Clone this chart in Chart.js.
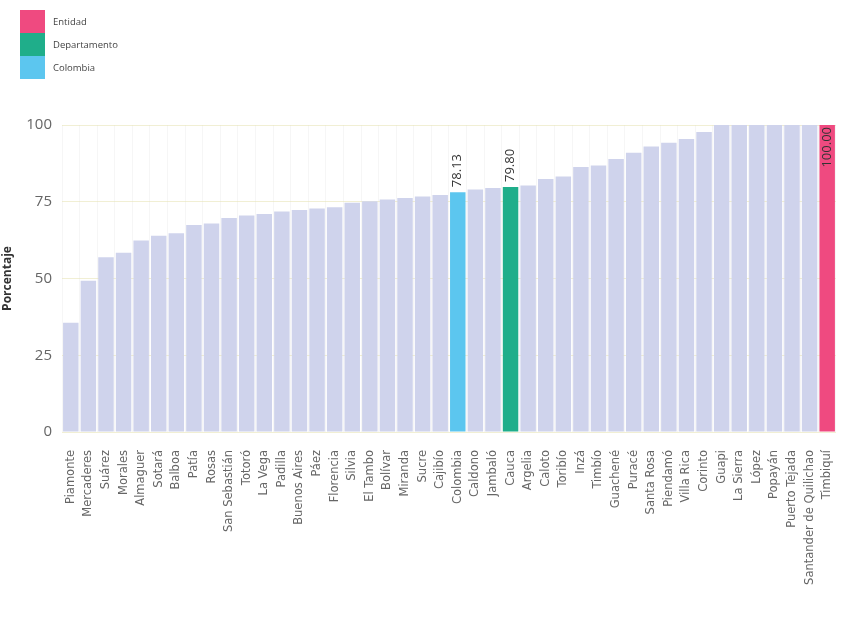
<!DOCTYPE html>
<html>
<head>
<meta charset="utf-8">
<script src="https://cdn.jsdelivr.net/npm/chart.js@4.4.1/dist/chart.umd.min.js"></script>
<style>
    html, body { margin: 0; padding: 0; background: #fff; }
    #wrap { position: relative; width: 859px; height: 630px; }
    #legenda { position: absolute; left: 20px; top: 10px; font-family: "Open Sans", sans-serif; font-size: 9.5px; color: #444; }
    .leg-item { display: flex; align-items: center; height: 23px; }
    .leg-cor { width: 25px; height: 23px; margin-right: 8px; }
</style>
</head>
<body>
<div id="wrap">
    <canvas id="grafico" width="859" height="630"></canvas>
    <div id="legenda"></div>
</div>
<script>
//  -- dados --
const municipios = ['Piamonte', 'Mercaderes', 'Suárez', 'Morales', 'Almaguer', 'Sotará', 'Balboa', 'Patía',
    'Rosas', 'San Sebastián', 'Totoró', 'La Vega', 'Padilla', 'Buenos Aires', 'Páez', 'Florencia', 'Silvia',
    'El Tambo', 'Bolívar', 'Miranda', 'Sucre', 'Cajibío', 'Colombia', 'Caldono', 'Jambaló', 'Cauca', 'Argelia',
    'Caloto', 'Toribío', 'Inzá', 'Timbío', 'Guachené', 'Puracé', 'Santa Rosa', 'Piendamó', 'Villa Rica',
    'Corinto', 'Guapi', 'La Sierra', 'López', 'Popayán', 'Puerto Tejada', 'Santander de Quilichao', 'Timbiquí'];

const porcentajes = [35.6, 49.3, 56.9, 58.4, 62.4, 63.9, 64.7, 67.4,
    67.9, 69.7, 70.5, 71.0, 71.8, 72.3, 72.8, 73.2, 74.7,
    75.2, 75.7, 76.2, 76.7, 77.2, 78.13, 79.0, 79.5, 79.80, 80.3,
    82.4, 83.2, 86.3, 86.8, 88.9, 91.0, 93.0, 94.2, 95.4,
    97.7, 100, 100, 100, 100, 100, 100, 100.00];

const tipos = ['Entidad', 'Departamento', 'Colombia'];
const coresTipo = ['#ef4a80', '#1fae8a', '#5cc6ef'];
const destaques = { 'Colombia': 2, 'Cauca': 1, 'Timbiquí': 0 };
const yTicks = [0, 25, 50, 75, 100];

const corBase = '#cfd3ec';

// cores por barra
const coresBarras = municipios.map(m => destaques[m] !== undefined ? coresTipo[destaques[m]] : corBase);

// legenda em html
const legenda = document.getElementById('legenda');
tipos.forEach((t, i) => {
    const div = document.createElement('div');
    div.className = 'leg-item';
    div.innerHTML = `<div class="leg-cor" style="background:${coresTipo[i]}"></div><span>${t}</span>`;
    legenda.appendChild(div);
});

// rótulos dos destaques
const rotulosPlugin = {
    id: 'rotulos',
    afterDatasetsDraw(chart) {
        const ctx = chart.ctx;
        const meta = chart.getDatasetMeta(0);
        ctx.save();
        ctx.font = '13px "Open Sans", sans-serif';
        ctx.fillStyle = '#333';
        municipios.forEach((m, i) => {
            if (destaques[m] === undefined) return;
            const bar = meta.data[i];
            const txt = porcentajes[i].toFixed(2);
            ctx.save();
            ctx.translate(bar.x, bar.y);
            ctx.rotate(-Math.PI / 2);
            ctx.textBaseline = 'middle';
            if (porcentajes[i] >= 99) {
                ctx.textAlign = 'right';
                ctx.fillText(txt, -2, 0);
            } else {
                ctx.textAlign = 'left';
                ctx.fillText(txt, 5, 0);
            }
            ctx.restore();
        });
        ctx.restore();
    }
};

const ctx = document.getElementById('grafico').getContext('2d');
new Chart(ctx, {
    type: 'bar',
    data: {
        labels: municipios,
        datasets: [{
            label: 'Porcentaje',
            data: porcentajes,
            backgroundColor: coresBarras,
            borderWidth: 0,
            categoryPercentage: 1,
            barPercentage: 0.88
        }]
    },
    options: {
        responsive: false,
        animation: false,
        layout: { padding: { top: 125, right: 2, left: 0, bottom: 0 } },
        plugins: { legend: { display: false }, tooltip: { enabled: false } },
        scales: {
            x: {
                grid: { display: true, color: 'rgba(0,0,0,0.035)', drawTicks: false },
                border: { display: false },
                ticks: {
                    autoSkip: false,
                    maxRotation: 90,
                    minRotation: 90,
                    padding: 18,
                    color: '#666',
                    font: { family: '"DejaVu Sans", sans-serif', size: 11.5 }
                },
                afterFit(scale) { scale.height = 198; }
            },
            y: {
                min: 0,
                max: 100,
                z: 1,
                afterBuildTicks(scale) { scale.ticks = yTicks.map(v => ({ value: v })); },
                grid: { color: 'rgba(225,220,160,0.45)', drawTicks: false },
                border: { display: false },
                ticks: {
                    padding: 10,
                    color: '#666',
                    font: { family: '"Open Sans", sans-serif', size: 15 }
                },
                title: {
                    display: true,
                    text: 'Porcentaje',
                    color: '#333',
                    padding: { top: 0, bottom: 0 },
                    font: { family: '"Open Sans", sans-serif', size: 12, weight: 'bold' }
                },
                afterFit(scale) { scale.width = 62; }
            }
        }
    },
    plugins: [rotulosPlugin]
});
</script>
</body>
</html>
